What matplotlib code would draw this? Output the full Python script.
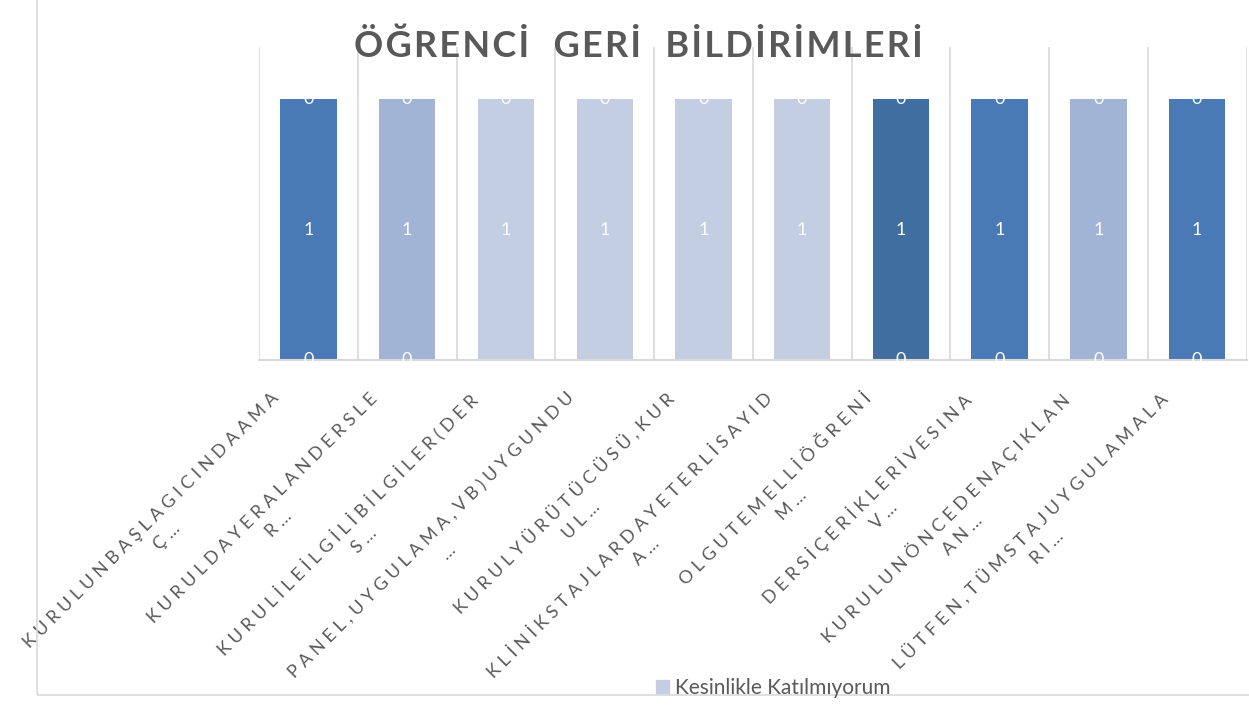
import matplotlib
matplotlib.use("Agg")
import matplotlib.pyplot as plt
from matplotlib.patches import Rectangle
from matplotlib.transforms import ScaledTranslation
import numpy as np

plt.rcParams['font.family'] = ['Lato', 'DejaVu Sans']

# --- Veriler ---
kategoriler_satir1 = [
    "KURULUNBAŞLAGICINDAAMA",
    "KURULDAYERALANDERSLE",
    "KURULİLEİLGİLİBİLGİLER(DER",
    "PANEL,UYGULAMA,VB)UYGUNDU",
    "KURULYÜRÜTÜCÜSÜ,KUR",
    "KLİNİKSTAJLARDAYETERLİSAYID",
    "OLGUTEMELLİÖĞRENİ",
    "DERSİÇERİKLERİVESINA",
    "KURULUNÖNCEDENAÇIKLAN",
    "LÜTFEN,TÜMSTAJUYGULAMALA",
]
kategoriler_satir2 = ["Ç…", "R…", "S…", "…", "UL…", "A…", "M…", "V…", "AN…", "RI…"]

alt_seri = [0, 0, 0, 0, 0, 0, 0, 0, 0, 0]
orta_seri = [1, 1, 1, 1, 1, 1, 1, 1, 1, 1]
ust_seri = [0, 0, 0, 0, 0, 0, 0, 0, 0, 0]
alt_etiket_goster = [True, True, False, False, False, False, True, True, True, True]

renkler = ["#4a7ab5", "#a2b4d5", "#c3cee2", "#c3cee2", "#c3cee2",
           "#c3cee2", "#416ea0", "#4a7ab5", "#a2b4d5", "#4a7ab5"]
lejant_etiketi = "Kesinlikle Katılmıyorum"
baslik = "ÖĞRENCİ  GERİ  BİLDİRİMLERİ"

yazi_rengi = "#595959"
izgara_rengi = "#d9d9d9"


def aralikli(metin, ayrac=" "):
    # harfler arasına boşluk koy (orijinaldeki gibi seyrek yazı)
    return ayrac.join(list(metin))


fig = plt.figure(figsize=(12.49, 7.07), dpi=100)
ax = fig.add_axes([0.2074, 0.4908, 0.7906, 0.4427])

x = np.arange(len(kategoriler_satir1))
genislik = 0.57

c_alt = ax.bar(x, alt_seri, genislik, color=renkler)
c_orta = ax.bar(x, orta_seri, genislik, bottom=alt_seri, color=renkler)
alt2 = np.array(alt_seri) + np.array(orta_seri)
c_ust = ax.bar(x, ust_seri, genislik, bottom=alt2, color=renkler)

ax.bar_label(c_alt, labels=[str(v) if g else "" for v, g in zip(alt_seri, alt_etiket_goster)],
             label_type="center", color="white", fontsize=13)
ax.bar_label(c_orta, labels=[str(v) for v in orta_seri],
             label_type="center", color="white", fontsize=13)
ax.bar_label(c_ust, labels=[str(v) for v in ust_seri],
             label_type="center", color="white", fontsize=13)

ax.set_xlim(-0.5, len(x) - 0.5)
ax.set_ylim(0, 1.2)
ax.set_yticks([])

# kategori sınırlarında dikey ızgara
ax.set_xticks(np.arange(-0.5, len(x), 1.0), minor=True)
ax.grid(True, which="minor", axis="x", color=izgara_rengi, linewidth=1.2)
ax.set_axisbelow(True)
for s in ["top", "right", "left"]:
    ax.spines[s].set_visible(False)
ax.spines["bottom"].set_color(izgara_rengi)
ax.spines["bottom"].set_linewidth(1.5)
ax.tick_params(axis="x", which="both", length=0, pad=0)

etiketler = [aralikli(a) + "\n" + aralikli(b) for a, b in zip(kategoriler_satir1, kategoriler_satir2)]
ax.set_xticks(x)
ax.set_xticklabels(etiketler, rotation=45, ha="right", va="top", rotation_mode="anchor",
                   multialignment="center", fontsize=13, color=yazi_rengi, linespacing=1.5)
kaydir = ScaledTranslation(-0.38, -0.30, fig.dpi_scale_trans)
for lbl in ax.get_xticklabels():
    lbl.set_transform(lbl.get_transform() + kaydir)

fig.text(0.511, 0.935, "\u200a".join(list(baslik)), ha="center", va="center",
         fontsize=26, fontweight="bold", color=yazi_rengi)

# lejant
fig.legend(handles=[Rectangle((0, 0), 1, 1, color="#c3cee2")], labels=[lejant_etiketi],
           loc="center", bbox_to_anchor=(0.619, 0.027), frameon=False, fontsize=15,
           labelcolor=yazi_rengi, handlelength=0.6, handleheight=0.6, handletextpad=0.3,
           borderpad=0)

# grafik alanı çerçevesi
fig.patches.append(Rectangle((0.0296, 0.017), 1.0, 1.0, transform=fig.transFigure,
                             fill=False, edgecolor=izgara_rengi, linewidth=1.2))

fig.savefig("out.png", dpi=100)
